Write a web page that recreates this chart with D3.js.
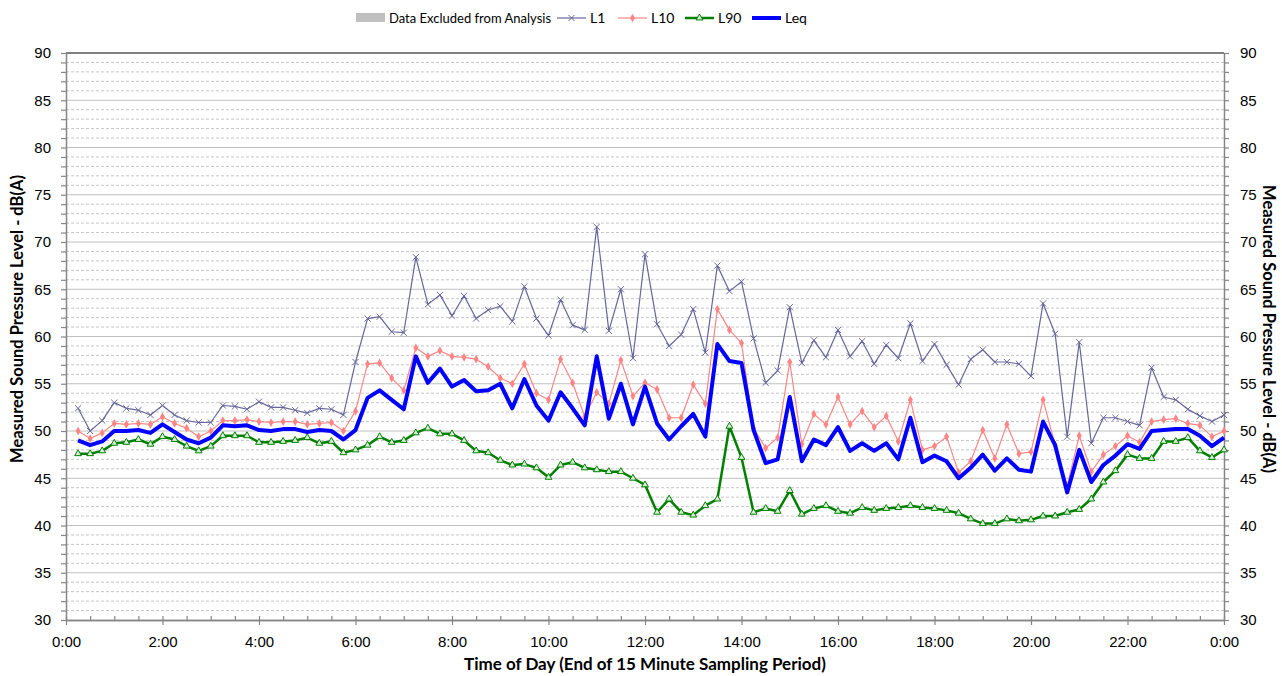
<!DOCTYPE html>
<html>
<head>
<meta charset="utf-8">
<script src="https://cdn.jsdelivr.net/npm/d3@7"></script>
<style>
  body { margin: 0; background: #fff; }
  svg { font-family: Lato, 'Open Sans', sans-serif; }
</style>
</head>
<body>
<svg id="chart" width="1282" height="676"></svg>
<script>
// 15 minute samples, 0:15 through 24:00
const L1 = [
  52.4, 50.0, 51.1, 53.0, 52.4, 52.2, 51.7, 52.7, 51.7, 51.1, 50.9, 50.9, 52.7, 52.6, 52.3, 53.1,
  52.5, 52.5, 52.2, 51.9, 52.4, 52.3, 51.7, 57.3, 61.9, 62.1, 60.5, 60.4, 68.4, 63.4, 64.4, 62.2,
  64.3, 61.9, 62.8, 63.2, 61.6, 65.3, 61.9, 60.1, 63.9, 61.2, 60.7, 71.6, 60.6, 65.0, 57.7, 68.7,
  61.3, 59.0, 60.2, 62.9, 58.3, 67.5, 64.8, 65.8, 59.8, 55.1, 56.4, 63.1, 57.2, 59.6, 57.8, 60.7,
  57.9, 59.5, 57.1, 59.1, 57.7, 61.4, 57.4, 59.2, 57.0, 54.9, 57.6, 58.6, 57.3, 57.3, 57.1, 55.8,
  63.5, 60.3, 49.4, 59.4, 48.7, 51.4, 51.4, 51.0, 50.6, 56.7, 53.6, 53.3, 52.3, 51.6, 51.0, 51.7
];
const L10 = [
  50.0, 49.2, 49.8, 50.8, 50.7, 50.8, 50.7, 51.5, 50.8, 50.3, 49.4, 50.0, 51.1, 51.1, 51.2, 51.0,
  50.9, 51.0, 51.0, 50.7, 50.8, 50.9, 50.0, 52.1, 57.1, 57.2, 55.6, 54.3, 58.8, 57.9, 58.5, 57.9,
  57.8, 57.6, 56.8, 55.6, 55.0, 57.1, 54.0, 53.3, 57.6, 55.1, 51.5, 54.1, 52.9, 57.5, 53.7, 55.1,
  54.4, 51.4, 51.4, 54.9, 52.9, 62.9, 60.7, 59.3, 50.3, 48.2, 49.3, 57.3, 48.6, 51.8, 50.7, 53.6,
  50.7, 52.1, 50.4, 51.6, 48.9, 53.3, 48.0, 48.4, 49.4, 45.6, 46.8, 50.1, 47.1, 50.7, 47.6, 47.8,
  53.3, 48.5, 44.2, 49.5, 45.7, 47.5, 48.4, 49.5, 48.8, 51.0, 51.2, 51.3, 50.8, 50.6, 49.4, 50.0
];
const L90 = [
  47.6, 47.6, 47.9, 48.7, 48.8, 49.1, 48.6, 49.4, 49.1, 48.4, 47.9, 48.4, 49.5, 49.5, 49.5, 48.8,
  48.8, 48.9, 49.0, 49.3, 48.7, 48.9, 47.7, 48.0, 48.5, 49.4, 48.8, 49.0, 49.8, 50.3, 49.7, 49.7,
  49.0, 47.9, 47.7, 46.9, 46.4, 46.5, 46.1, 45.1, 46.4, 46.7, 46.1, 45.9, 45.7, 45.7, 45.0, 44.3,
  41.4, 42.8, 41.4, 41.1, 42.1, 42.8, 50.5, 47.2, 41.4, 41.8, 41.5, 43.7, 41.2, 41.8, 42.1, 41.5,
  41.3, 41.9, 41.6, 41.8, 41.9, 42.1, 41.9, 41.8, 41.6, 41.3, 40.7, 40.2, 40.2, 40.7, 40.5, 40.6,
  41.0, 41.0, 41.4, 41.7, 42.8, 44.6, 45.8, 47.5, 47.1, 47.1, 48.9, 48.9, 49.3, 47.9, 47.2, 48.0
];
const Leq = [
  49.0, 48.5, 48.9, 50.0, 50.0, 50.1, 49.8, 50.7, 49.9, 49.1, 48.7, 49.3, 50.6, 50.5, 50.6, 50.1,
  50.0, 50.2, 50.2, 49.9, 50.1, 50.0, 49.1, 50.1, 53.5, 54.3, 53.3, 52.3, 57.9, 55.1, 56.6, 54.7,
  55.4, 54.2, 54.3, 55.0, 52.4, 55.5, 52.7, 51.1, 54.1, 52.4, 50.6, 57.9, 51.3, 55.0, 50.7, 54.7,
  50.8, 49.1, 50.5, 51.8, 49.4, 59.2, 57.4, 57.2, 50.1, 46.6, 47.0, 53.6, 46.8, 49.1, 48.5, 50.4,
  47.9, 48.7, 47.9, 48.7, 47.0, 51.4, 46.7, 47.4, 46.8, 45.0, 46.1, 47.5, 45.8, 47.1, 45.9, 45.7,
  51.0, 48.5, 43.5, 48.0, 44.6, 46.4, 47.4, 48.6, 48.1, 50.0, 50.1, 50.2, 50.2, 49.5, 48.4, 49.3
];

const xTickHours = [0, 2, 4, 6, 8, 10, 12, 14, 16, 18, 20, 22, 24];
const xTickLabels = ['0:00', '2:00', '4:00', '6:00', '8:00', '10:00', '12:00', '14:00', '16:00', '18:00', '20:00', '22:00', '0:00'];
const yTicks = [30, 35, 40, 45, 50, 55, 60, 65, 70, 75, 80, 85, 90];

// end of each sampling period, in hours
const hours = L1.map((d, i) => (i + 1) / 4);

const series = [
  { name: 'L1', values: L1, color: '#66669c', width: 1.2, marker: 'x' },
  { name: 'L10', values: L10, color: '#ff8585', width: 1.2, marker: 'dot' },
  { name: 'L90', values: L90, color: '#008000', width: 2.5, marker: 'tri' },
  { name: 'Leq', values: Leq, color: '#0000ff', width: 4, marker: null },
];

const svg = d3.select('#chart');
const x = d3.scaleLinear().domain([0, 24]).range([66, 1224]);
const y = d3.scaleLinear().domain([30, 90]).range([620, 53]);

// gridlines
const grid = svg.append('g');
grid.selectAll('line.minor')
  .data(d3.range(31, 90).filter(v => v % 5 !== 0))
  .join('line')
  .attr('x1', x(0)).attr('x2', x(24))
  .attr('y1', d => y(d)).attr('y2', d => y(d))
  .attr('stroke', '#c6c6c6')
  .attr('stroke-dasharray', '3,2');
grid.selectAll('line.major')
  .data(yTicks.filter(v => v > 30 && v < 90))
  .join('line')
  .attr('x1', x(0)).attr('x2', x(24))
  .attr('y1', d => y(d)).attr('y2', d => y(d))
  .attr('stroke', '#c0c0c0');
svg.append('line')
  .attr('x1', x(0)).attr('x2', x(24))
  .attr('y1', y(90)).attr('y2', y(90))
  .attr('stroke', '#000');

// axes
function styleAxis(g) {
  g.select('.domain').attr('stroke', '#868686').attr('stroke-width', 1.5);
  g.selectAll('.tick line').attr('stroke', '#868686').attr('stroke-width', 1.2);
  g.selectAll('.tick text').attr('fill', '#000').style('font-size', '15px');
}
const yFmt = d => (d % 5 === 0 ? d : '');
svg.append('g')
  .attr('transform', `translate(${x(0)},0)`)
  .call(d3.axisLeft(y).tickValues(d3.range(30, 91)).tickFormat(yFmt).tickSize(5).tickPadding(10).tickSizeOuter(0))
  .call(styleAxis);
svg.append('g')
  .attr('transform', `translate(${x(24)},0)`)
  .call(d3.axisRight(y).tickValues(d3.range(30, 91)).tickFormat(yFmt).tickSize(5).tickPadding(11).tickSizeOuter(0))
  .call(styleAxis);
svg.append('g')
  .attr('transform', `translate(0,${y(30)})`)
  .call(d3.axisTop(x).tickValues(d3.range(0, 24.1, 0.5)).tickFormat('').tickSize(4).tickSizeOuter(0))
  .call(styleAxis);
svg.append('g')
  .attr('transform', `translate(0,${y(30)})`)
  .call(d3.axisBottom(x).tickValues(xTickHours).tickFormat((d, i) => xTickLabels[i]).tickSize(5).tickPadding(11).tickSizeOuter(0))
  .call(styleAxis);

// lines
const line = d3.line().x((d, i) => x(hours[i])).y(d => y(d));
series.forEach(s => {
  const g = svg.append('g');
  g.append('path')
    .attr('d', line(s.values))
    .attr('fill', 'none')
    .attr('stroke', s.color)
    .attr('stroke-width', s.width)
    .attr('stroke-linejoin', 'round');
  if (s.marker === 'x') {
    g.selectAll('path.m').data(s.values).join('path')
      .attr('d', d3.symbol().type(d3.symbolX).size(26))
      .attr('transform', (d, i) => `translate(${x(hours[i])},${y(d)})`)
      .attr('fill', 'none').attr('stroke', s.color).attr('stroke-width', 1);
  } else if (s.marker === 'dot') {
    g.selectAll('path.m').data(s.values).join('path')
      .attr('d', d3.symbol().type(d3.symbolDiamond).size(22))
      .attr('transform', (d, i) => `translate(${x(hours[i])},${y(d)})`)
      .attr('fill', s.color);
  } else if (s.marker === 'tri') {
    g.selectAll('path.m').data(s.values).join('path')
      .attr('d', d3.symbol().type(d3.symbolTriangle).size(20))
      .attr('transform', (d, i) => `translate(${x(hours[i])},${y(d)})`)
      .attr('fill', '#d8ecd8').attr('stroke', s.color).attr('stroke-width', 1);
  }
});

// axis titles
svg.append('text')
  .attr('transform', 'translate(23,319) rotate(-90)')
  .attr('text-anchor', 'middle')
  .style('font-size', '16.5px').style('font-weight', 'bold')
  .text('Measured Sound Pressure Level - dB(A)');
svg.append('text')
  .attr('transform', 'translate(1263,329) rotate(90)')
  .attr('text-anchor', 'middle')
  .style('font-size', '16.5px').style('font-weight', 'bold')
  .text('Measured Sound Pressure Level - dB(A)');
svg.append('text')
  .attr('x', 645).attr('y', 670)
  .attr('text-anchor', 'middle')
  .style('font-size', '17px').style('font-weight', 'bold')
  .text('Time of Day (End of 15 Minute Sampling Period)');

// legend
const legend = svg.append('g').style('font-size', '13px');
legend.append('rect').attr('x', 356).attr('y', 13).attr('width', 29).attr('height', 9).attr('fill', '#c0c0c0');
legend.append('text').attr('x', 389).attr('y', 23).text('Data Excluded from Analysis');
const legendX = [557, 618, 685, 752];
series.forEach((s, i) => {
  const lx = legendX[i];
  legend.append('line')
    .attr('x1', lx).attr('x2', lx + 29).attr('y1', 18).attr('y2', 18)
    .attr('stroke', s.color).attr('stroke-width', s.width);
  if (s.marker === 'x') {
    legend.append('path').attr('d', d3.symbol().type(d3.symbolX).size(26))
      .attr('transform', `translate(${lx + 14.5},18)`).attr('fill', 'none').attr('stroke', s.color);
  } else if (s.marker === 'dot') {
    legend.append('path').attr('d', d3.symbol().type(d3.symbolDiamond).size(22))
      .attr('transform', `translate(${lx + 14.5},18)`).attr('fill', s.color);
  } else if (s.marker === 'tri') {
    legend.append('path').attr('d', d3.symbol().type(d3.symbolTriangle).size(20))
      .attr('transform', `translate(${lx + 14.5},18)`).attr('fill', '#d8ecd8').attr('stroke', s.color);
  }
  legend.append('text').attr('x', lx + 33).attr('y', 23).style('font-size', '14px').text(s.name);
});
</script>
</body>
</html>
